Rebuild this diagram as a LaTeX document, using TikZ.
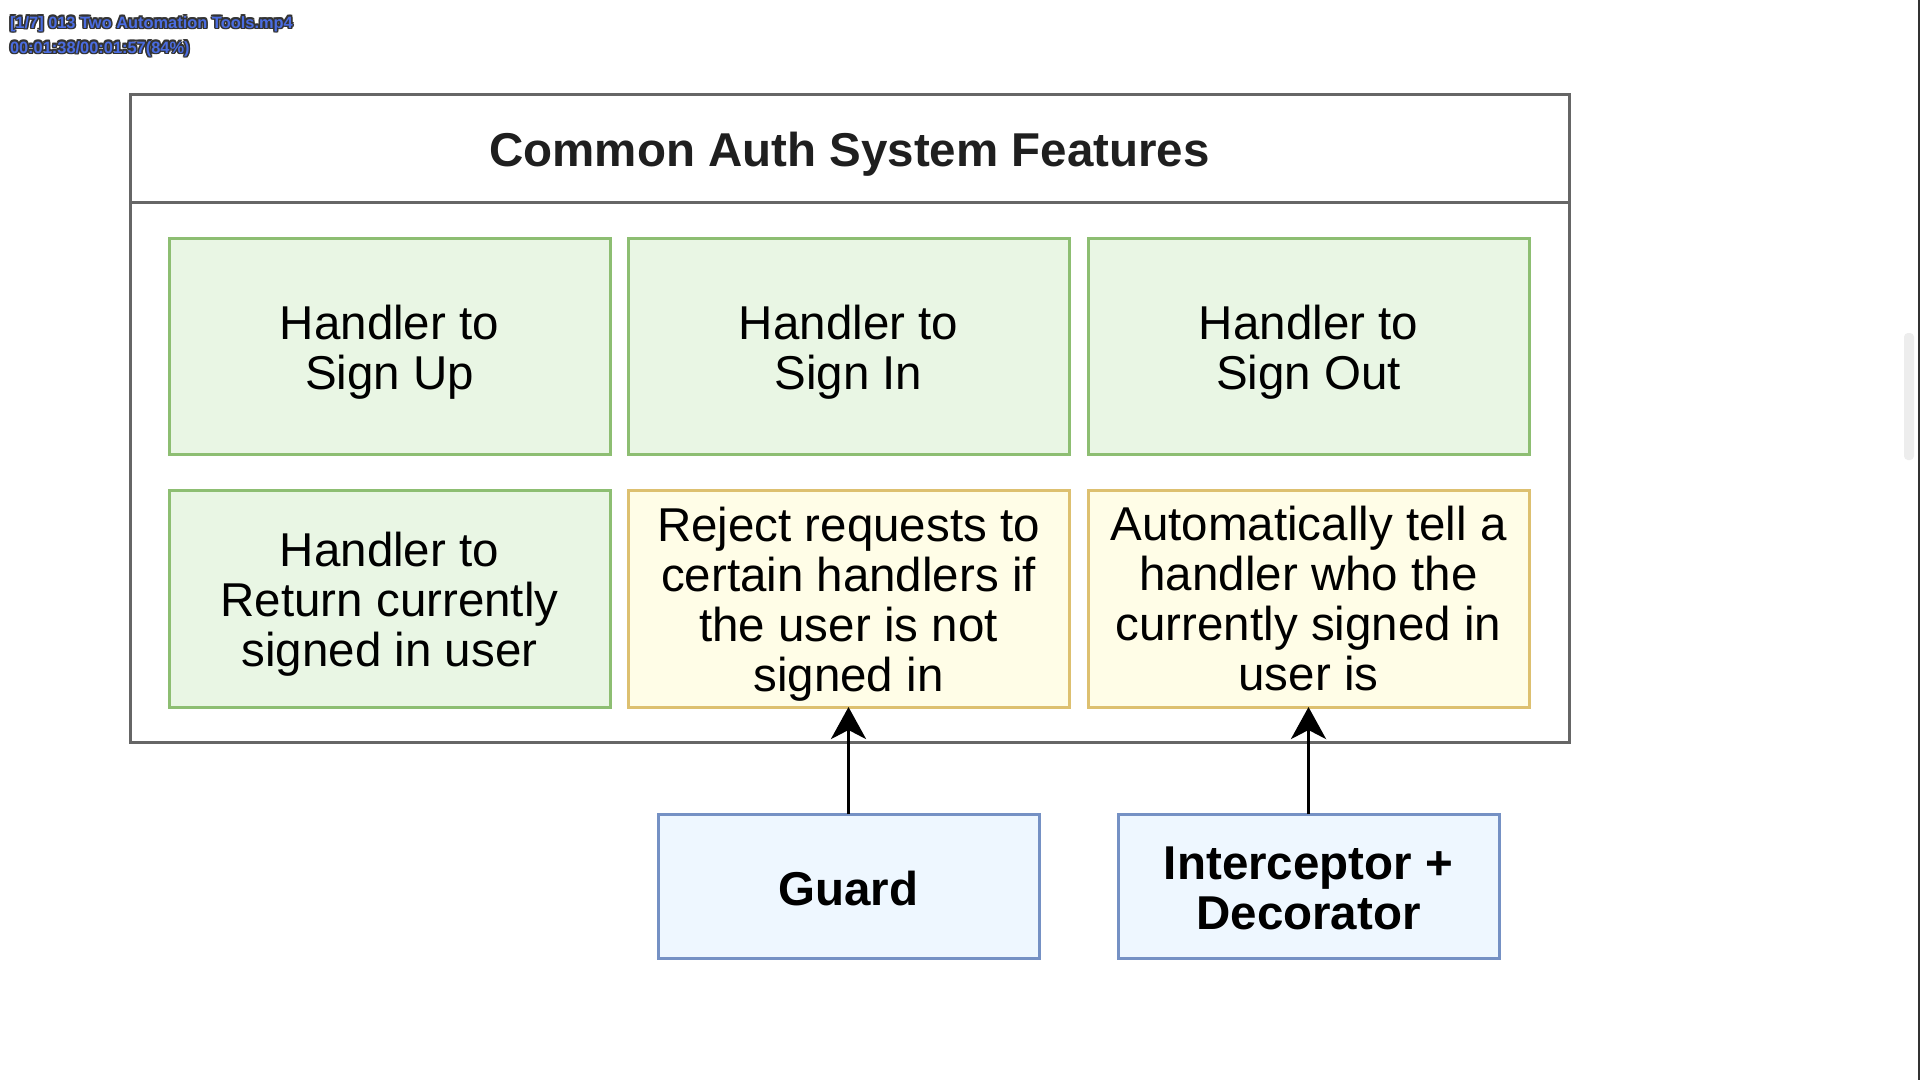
\documentclass[tikz,border=0pt]{standalone}
\usepackage{fontspec}
\setmainfont{Liberation Sans}
\usetikzlibrary{arrows.meta}
\definecolor{greenfill}{HTML}{E9F6E4}
\definecolor{greenline}{HTML}{8DBE72}
\definecolor{yellowfill}{HTML}{FFFDE7}
\definecolor{yellowline}{HTML}{DDC070}
\definecolor{bluefill}{HTML}{EEF7FF}
\definecolor{blueline}{HTML}{7591C4}
\definecolor{frameline}{HTML}{666666}
\definecolor{overlayblue}{HTML}{4A6CE0}
\definecolor{overlayedge}{HTML}{333333}
\begin{document}
\begin{tikzpicture}[x=1pt,y=-1pt,
  every node/.style={inner sep=0pt,outer sep=0pt},
  boxtext/.style={align=center,font=\fontsize{47.5}{50}\selectfont,yshift=-6pt},
  tooltext/.style={align=center,font=\fontsize{47.5}{50}\selectfont\bfseries,yshift=-2.5pt},
  feature/.style={draw,line width=3pt,rectangle,minimum width=441pt},
  handler/.style={feature,fill=greenfill,draw=greenline},
  middleware/.style={feature,fill=yellowfill,draw=yellowline},
  tool/.style={draw=blueline,fill=bluefill,line width=3pt,rectangle,
    minimum width=381pt,minimum height=144pt},
  link/.style={line width=3.5pt,-{Stealth[length=32pt,width=35pt,inset=9pt]}},
  overlay/.style={anchor=base west,font=\fontsize{16.4}{18}\selectfont\bfseries}
]
\useasboundingbox (0,0) rectangle (1920,1080);
\fill[white] (0,0) rectangle (1920,1080);

% player scrollbar and right edge
\fill[black!7,rounded corners=4pt] (1904,333) rectangle (1914,460);
\fill[black!80] (1918,0) rectangle (1920,1080);

% outer frame with title bar
\draw[frameline,line width=3pt] (130,94) rectangle (1569,742);
\draw[frameline,line width=3pt] (130,202) -- (1569,202);
\node[font=\fontsize{47.5}{50}\selectfont\bfseries,text=black!88] (title) at (849.5,154) {Common Auth System Features};

% feature boxes
\node[handler,minimum height=216pt,label={[boxtext]center:{Handler to\\Sign Up}}] (signup) at (389.5,346) {};
\node[handler,minimum height=216pt,label={[boxtext]center:{Handler to\\Sign In}}] (signin) at (848.5,346) {};
\node[handler,minimum height=216pt,label={[boxtext]center:{Handler to\\Sign Out}}] (signout) at (1308.5,346) {};
\node[handler,minimum height=217pt,label={[boxtext]center:{Handler to\\Return currently\\signed in user}}] (whoami) at (389.5,598.5) {};
\node[middleware,minimum height=217pt,label={[boxtext]center:{Reject requests to\\certain handlers if\\the user is not\\signed in}}] (reject) at (848.5,598.5) {};
\node[middleware,minimum height=217pt,label={[boxtext,yshift=6pt]center:{Automatically tell a\\handler who the\\currently signed in\\user is}}] (inject) at (1308.5,598.5) {};

% tools
\node[tool,label={[tooltext]center:{Guard}}] (guard) at (848.5,886) {};
\node[tool,label={[tooltext]center:{Interceptor +\\Decorator}}] (interceptor) at (1308.5,886) {};

\draw[link] (guard.north) -- (reject.south);
\draw[link] (interceptor.north) -- (inject.south);

% player overlay caption
\foreach \dx/\dy in {-1.2/-1.2,0/-1.5,1.2/-1.2,-1.5/0,1.5/0,-1.2/1.2,0/1.5,1.2/1.2} {
  \node[overlay,text=overlayedge] at (10+\dx,28+\dy) {[1/7] 013 Two Automation Tools.mp4};
  \node[overlay,text=overlayedge] at (10+\dx,53+\dy) {00:01:38/00:01:57(84\%)};
}
\node[overlay,text=overlayblue] (cap1) at (10,28) {[1/7] 013 Two Automation Tools.mp4};
\node[overlay,text=overlayblue] (cap2) at (10,53) {00:01:38/00:01:57(84\%)};
\end{tikzpicture}
\end{document}
